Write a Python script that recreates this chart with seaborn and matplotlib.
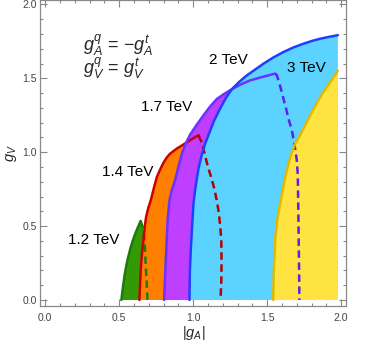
import matplotlib
matplotlib.use("Agg")
import matplotlib.pyplot as plt
import seaborn as sns

# region boundaries: solid edge (left/top) and dashed edge (right)
green_solid_x = [0.515, 0.522, 0.530, 0.538, 0.547, 0.556, 0.566, 0.576, 0.586, 0.600, 0.615, 0.630, 0.645]
green_solid_y = [0.0, 0.06, 0.12, 0.175, 0.225, 0.27, 0.31, 0.35, 0.383, 0.425, 0.465, 0.50, 0.535]
green_dash_x = [0.645, 0.655, 0.664, 0.670, 0.674, 0.680, 0.686, 0.691]
green_dash_y = [0.535, 0.505, 0.473, 0.41, 0.35, 0.225, 0.12, 0.0]

red_solid_x = [0.637, 0.641, 0.647, 0.655, 0.664, 0.672, 0.682, 0.696, 0.714, 0.735, 0.755, 0.78,
               0.80, 0.822, 0.845, 0.89, 0.934, 0.985, 1.036]
red_solid_y = [0.0, 0.10, 0.225, 0.32, 0.405, 0.49, 0.563, 0.62, 0.676, 0.76, 0.833, 0.89,
               0.93, 0.965, 0.991, 1.025, 1.052, 1.085, 1.115]
red_dash_x = [1.036, 1.06, 1.08, 1.10, 1.125, 1.145, 1.16, 1.172, 1.183, 1.19, 1.192, 1.19, 1.185]
red_dash_y = [1.115, 1.06, 0.98, 0.90, 0.82, 0.745, 0.67, 0.60, 0.50, 0.40, 0.25, 0.12, 0.0]

purple_solid_x = [0.804, 0.810, 0.818, 0.828, 0.840, 0.858, 0.878, 0.90, 0.924, 0.95, 0.980, 1.02,
                  1.07, 1.115, 1.160, 1.21, 1.261, 1.32, 1.385, 1.47, 1.554]
purple_solid_y = [0.0, 0.15, 0.338, 0.55, 0.676, 0.75, 0.811, 0.90, 0.991, 1.06, 1.12, 1.18,
                  1.25, 1.31, 1.36, 1.395, 1.426, 1.458, 1.486, 1.51, 1.532]
purple_dash_x = [1.554, 1.566, 1.590, 1.610, 1.628, 1.644, 1.667, 1.685, 1.700, 1.707, 1.711, 1.713,
                 1.716, 1.718]
purple_dash_y = [1.532, 1.52, 1.44, 1.363, 1.295, 1.228, 1.15, 1.05, 0.95, 0.85, 0.6, 0.43,
                 0.2, 0.0]

blue_solid_x = [0.975, 0.978, 0.984, 0.990, 1.002, 1.014, 1.036, 1.06, 1.081, 1.103, 1.14, 1.182,
                1.22, 1.261, 1.31, 1.363, 1.42, 1.475, 1.54, 1.610, 1.68, 1.745, 1.80, 1.858,
                1.92, 1.978]
blue_solid_y = [0.0, 0.2, 0.338, 0.45, 0.653, 0.75, 0.89, 0.99, 1.059, 1.115, 1.21, 1.295,
                1.365, 1.426, 1.475, 1.520, 1.56, 1.599, 1.64, 1.678, 1.71, 1.734, 1.752, 1.768,
                1.781, 1.792]

yellow_solid_x = [1.541, 1.545, 1.552, 1.556, 1.570, 1.588, 1.61, 1.633, 1.66, 1.69, 1.725, 1.758,
                  1.791, 1.84, 1.880, 1.93, 1.978]
yellow_solid_y = [0.0, 0.2, 0.338, 0.43, 0.55, 0.653, 0.77, 0.878, 0.98, 1.06, 1.12, 1.185,
                  1.25, 1.34, 1.407, 1.48, 1.55]

mass_labels = ["1.2 TeV", "1.4 TeV", "1.7 TeV", "2 TeV", "3 TeV"]
label_x = [0.331, 0.557, 0.821, 1.236, 1.764]
label_y = [0.405, 0.865, 1.304, 1.622, 1.568]

sns.set_style("ticks")
plt.rcParams['font.family'] = ['Liberation Sans', 'DejaVu Sans']
plt.rcParams['mathtext.fontset'] = 'custom'
plt.rcParams['mathtext.it'] = 'Liberation Sans:italic'
plt.rcParams['mathtext.rm'] = 'Liberation Sans'

fig = plt.figure(figsize=(3.81, 3.44), dpi=100)
ax = fig.add_axes([39.5 / 381, 38.3 / 344, 306.5 / 381, 305.7 / 344])

regions = [
    # solid x, solid y, dashed x, dashed y, fill, solid colour, dashed colour
    (green_solid_x, green_solid_y, green_dash_x, green_dash_y, "#339a05", "#1f7a0a", "#1f7a0a"),
    (red_solid_x, red_solid_y, red_dash_x, red_dash_y, "#ff8000", "#cc0000", "#b80000"),
    (purple_solid_x, purple_solid_y, purple_dash_x, purple_dash_y, "#bf3fff", "#6a33ff", "#5a22ee"),
    (blue_solid_x, blue_solid_y, None, None, "#5cd3ff", "#1f3fff", None),
    (yellow_solid_x, yellow_solid_y, None, None, "#ffe340", "#e2b800", None),
]

# fills first
for sx, sy, dx, dy, fc, lc, dc in regions:
    if dx is not None:
        px = sx + dx
        py = sy + dy
    else:
        px = sx + [sx[-1]]
        py = sy + [0.0]
    ax.fill(px, py, color=fc, lw=0, zorder=1)

# then the edges
for sx, sy, dx, dy, fc, lc, dc in regions:
    sns.lineplot(x=sx, y=sy, sort=False, estimator=None, color=lc, lw=1.8, ax=ax, zorder=3)
    if dx is not None:
        sns.lineplot(x=dx, y=dy, sort=False, estimator=None, color=dc, lw=1.8,
                     ax=ax, zorder=3)
        ax.lines[-1].set_dashes((3, 1.8))

for lab, lx, ly in zip(mass_labels, label_x, label_y):
    ax.text(lx, ly, lab, ha='center', va='center', fontsize=11, color='black')

ax.text(0.257, 1.723, r"$g_A^q\,=\,\mathrm{-}g_A^t$", ha='left', va='center', fontsize=13)
ax.text(0.257, 1.568, r"$g_V^q\,=\,g_V^t$", ha='left', va='center', fontsize=13)

ax.set_xlim(-0.0385, 2.033)
ax.set_ylim(-0.0385, 2.03)
ax.set_xticks([0.0, 0.5, 1.0, 1.5, 2.0])
ax.set_yticks([0.0, 0.5, 1.0, 1.5, 2.0])
ax.set_xticklabels(["0.0", "0.5", "1.0", "1.5", "2.0"])
ax.set_yticklabels(["0.0", "0.5", "1.0", "1.5", "2.0"])
ax.set_xticks([i / 10 for i in range(21)], minor=True)
ax.set_yticks([i / 10 for i in range(21)], minor=True)
ax.tick_params(which='both', direction='in', top=True, right=True, color='#888888', width=0.8)
ax.tick_params(which='major', length=5, labelsize=7.5, labelcolor='#444444')
ax.tick_params(axis='x', which='major', pad=5)
ax.tick_params(axis='y', which='major', pad=2)
ax.tick_params(which='minor', length=2.5)
for s in ax.spines.values():
    s.set_color('#888888')
    s.set_linewidth(0.9)

ax.set_xlabel(r"$|g_A|$", fontsize=10.5)
ax.set_ylabel(r"$g_V$", fontsize=10.5)
ax.xaxis.label.set_va('center')
ax.yaxis.label.set_va('center')
ax.xaxis.set_label_coords(0.504, -0.089)
ax.yaxis.set_label_coords(-0.09, 0.5)

fig.savefig("out.png", dpi=100)
